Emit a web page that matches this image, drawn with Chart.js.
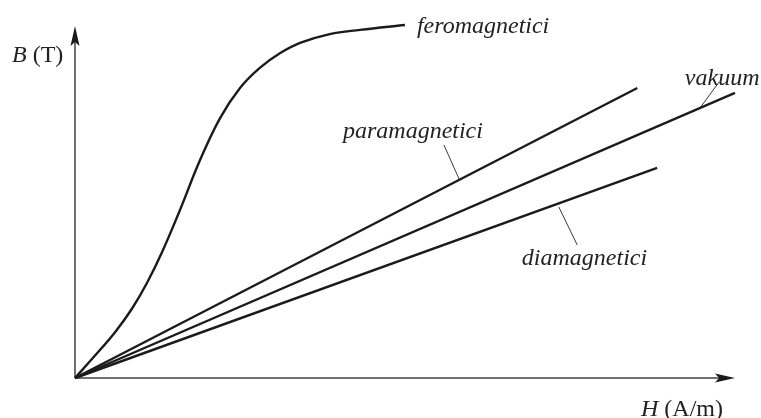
<!DOCTYPE html>
<html>
<head>
<meta charset="utf-8">
<script src="https://cdn.jsdelivr.net/npm/chart.js@4"></script>
<style>
  html, body { margin: 0; padding: 0; background: #fff; }
  #wrap { width: 761px; height: 418px; position: relative; }
</style>
</head>
<body>
<div id="wrap"><canvas id="bhGraph"></canvas></div>
<script>
// B-H krivulje (H i B u relativnim jedinicama, 0..100)
const feroH = [0, 3.0, 6.1, 8.6, 10.9, 13.2, 15.9, 18.9, 22.0, 25.0, 28.0, 31.1, 34.1, 38.6, 43.2, 50.0];
const feroB = [0, 6.3, 13.1, 19.6, 27.0, 35.8, 47.7, 61.7, 73.9, 82.4, 88.1, 92.3, 95.2, 97.7, 98.9, 100.3];
const paraH = [0, 85.2];
const paraB = [0, 82.4];
const vakH = [0, 100];
const vakB = [0, 81.0];
const diaH = [0, 88.2];
const diaB = [0, 59.7];

// oznake krivulja: tekst, polozaj teksta, pokazna crtica
const labelNames = ['feromagnetici', 'paramagnetici', 'vakuum', 'diamagnetici'];
const labelH = [51.8, 40.6, 92.4, 67.7];
const labelB = [98.0, 68.2, 83.2, 32.1];
const leaderH = [null, [55.9, 58.2], [97.6, 94.8], [76.1, 73.3]];
const leaderB = [null, [66.2, 56.5], [84.1, 77.0], [37.8, 48.6]];

const xTitle = ['H', ' (A/m)'];
const yTitle = ['B', ' (T)'];

const pts = (xs, ys) => xs.map((x, i) => ({ x: x, y: ys[i] }));

const curve = (data, extra) => Object.assign({
  data: data,
  showLine: true,
  borderColor: '#1b1b1b',
  borderWidth: 2.4,
  pointRadius: 0,
  fill: false,
  clip: false
}, extra || {});

const datasets = [
  curve(pts(feroH, feroB), { tension: 0.4 }),
  curve(pts(paraH, paraB)),
  curve(pts(vakH, vakB)),
  curve(pts(diaH, diaB))
];
leaderH.forEach((lh, i) => {
  if (!lh) return;
  datasets.push(curve(pts(lh, leaderB[i]), { borderWidth: 1, borderColor: '#3a3a3a' }));
});

const serif = '"Liberation Serif", "Times New Roman", serif';

// osi sa strelicama i tekstovi
const axesPlugin = {
  id: 'axesPlugin',
  beforeDatasetsDraw(chart) {
    const c = chart.ctx;
    const xs = chart.scales.x, ys = chart.scales.y;
    const x0 = xs.getPixelForValue(0), y0 = ys.getPixelForValue(0);
    const xEnd = xs.getPixelForValue(xs.max), yEnd = ys.getPixelForValue(ys.max);
    c.save();
    c.strokeStyle = '#707070';
    c.fillStyle = '#1b1b1b';
    c.lineWidth = 2;
    c.beginPath();
    c.moveTo(x0, y0); c.lineTo(xEnd - 12, y0);
    c.moveTo(x0, y0); c.lineTo(x0, yEnd + 12);
    c.stroke();
    // strelice
    c.beginPath();
    c.moveTo(xEnd, y0); c.lineTo(xEnd - 20, y0 - 4.5); c.lineTo(xEnd - 16, y0); c.lineTo(xEnd - 20, y0 + 4.5);
    c.closePath(); c.fill();
    c.beginPath();
    c.moveTo(x0, yEnd); c.lineTo(x0 - 4.5, yEnd + 20); c.lineTo(x0, yEnd + 16); c.lineTo(x0 + 4.5, yEnd + 20);
    c.closePath(); c.fill();
    c.restore();
  },
  afterDraw(chart) {
    const c = chart.ctx;
    const xs = chart.scales.x, ys = chart.scales.y;
    const x0 = xs.getPixelForValue(0), y0 = ys.getPixelForValue(0);
    const xEnd = xs.getPixelForValue(xs.max), yEnd = ys.getPixelForValue(ys.max);
    c.save();
    c.fillStyle = '#222';
    c.textBaseline = 'alphabetic';
    labelNames.forEach((t, i) => {
      c.font = 'italic 24px ' + serif;
      c.fillText(t, xs.getPixelForValue(labelH[i]), ys.getPixelForValue(labelB[i]));
    });
    // naslovi osi: slovo kurziv, jedinica uspravno
    const title = (parts, x, y) => {
      c.font = 'italic 24px ' + serif;
      c.fillText(parts[0], x, y);
      const w = c.measureText(parts[0]).width;
      c.font = '24px ' + serif;
      c.fillText(parts[1], x + w, y);
    };
    title(yTitle, x0 - 63, yEnd + 36);
    title(xTitle, xEnd - 94, y0 + 38);
    c.restore();
  }
};

const ctx = document.getElementById('bhGraph');
new Chart(ctx, {
  type: 'scatter',
  data: { datasets: datasets },
  options: {
    responsive: true,
    maintainAspectRatio: false,
    animation: false,
    events: [],
    layout: {
      padding: { left: 75, right: 26, top: 26, bottom: 40 }
    },
    plugins: {
      legend: { display: false },
      tooltip: { enabled: false }
    },
    scales: {
      x: { type: 'linear', min: 0, max: 100, display: false },
      y: { type: 'linear', min: 0, max: 100, display: false }
    }
  },
  plugins: [axesPlugin]
});
</script>
</body>
</html>
